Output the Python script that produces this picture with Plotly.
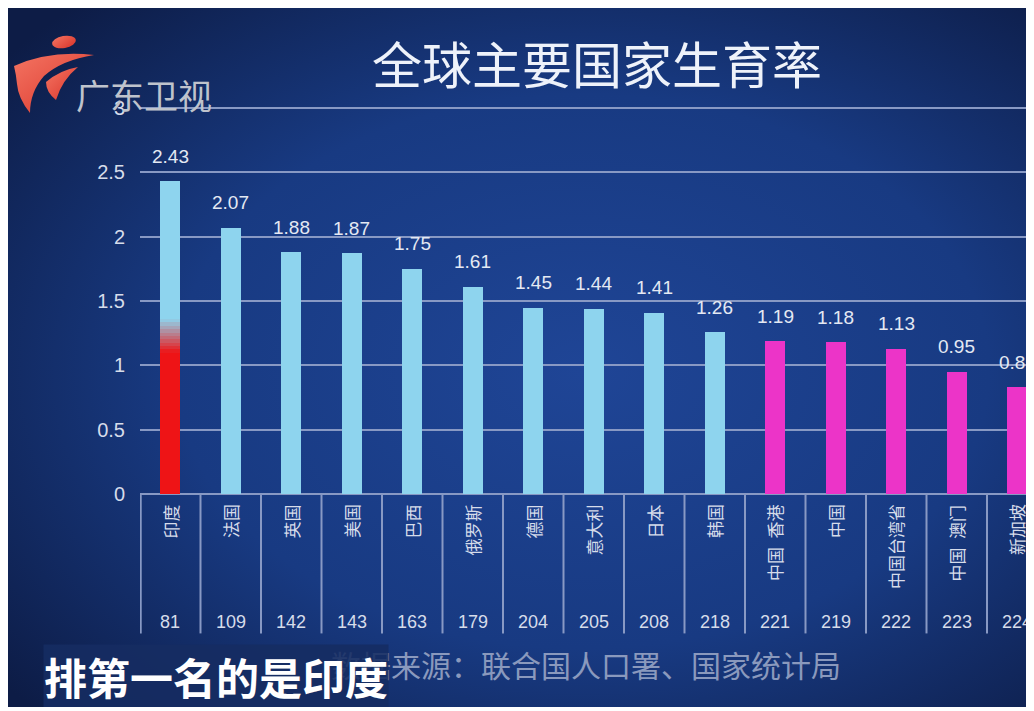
import base64
import plotly.graph_objects as go

# ---------------- data ----------------
categories = ["印度", "法国", "英国", "美国", "巴西", "俄罗斯", "德国", "意大利",
              "日本", "韩国", "中国 香港", "中国", "中国台湾省", "中国 澳门", "新加坡"]
fertility = [2.43, 2.07, 1.88, 1.87, 1.75, 1.61, 1.45, 1.44, 1.41, 1.26,
             1.19, 1.18, 1.13, 0.95, 0.83]
world_rank = [81, 109, 142, 143, 163, 179, 204, 205, 208, 218, 221, 219, 222, 223, 224]
groups = ["highlight"] + ["other"] * 9 + ["china"] * 5
y_tick_vals = [0, 0.5, 1, 1.5, 2, 2.5, 3]
y_tick_text = ["0", "0.5", "1", "1.5", "2", "2.5", "3"]

title_text = "全球主要国家生育率"
subtitle_text = "排第一名的是印度"
source_text = "数据来源：联合国人口署、国家统计局"
logo_text = "广东卫视"

# ---------------- style ----------------
OFF = 8                      # page body margin of the html page
W, H = 1026, 699
M_L, M_R, M_T, M_B = 132, 0, 96, 71
PLOT_W = W - M_L - M_R
PLOT_H = H - M_T - M_B
COLOR_MAP = {"highlight": "#8ed4ee", "other": "#8ed4ee", "china": "#ec34c8"}
RED = (238, 20, 22)
BLUE = (142, 212, 238)
LINE = "#8899c4"
TXT = "#d6dcea"
CJK = "Noto Sans CJK SC"
NUM = "Liberation Sans, Arial, sans-serif"


def px_x(sx):
    """screen pixel x -> paper x"""
    return (sx - OFF - M_L) / PLOT_W


def px_y(sy):
    """screen pixel y -> paper y"""
    return (H - M_B - (sy - OFF)) / PLOT_H


bar_colors = [COLOR_MAP[g] for g in groups]

fig = go.Figure()
fig.add_trace(go.Bar(x=categories, y=fertility, marker=dict(color=bar_colors, line=dict(width=0)),
                     width=0.33, hoverinfo="skip", showlegend=False))

# red lower part of the highlighted (first) bar, fading into blue
red_top = 1.1
fig.add_trace(go.Bar(x=[categories[0]], y=[red_top], marker=dict(color="rgb(%d,%d,%d)" % RED, line=dict(width=0)),
                     width=0.33, hoverinfo="skip", showlegend=False))
steps = 10
step_h = 0.026
for i in range(steps):
    t = (i + 0.5) / steps
    c = tuple(int(RED[k] + (BLUE[k] - RED[k]) * t) for k in range(3))
    fig.add_trace(go.Bar(x=[categories[0]], y=[step_h], base=[red_top + i * step_h],
                         marker=dict(color="rgb(%d,%d,%d)" % c, line=dict(width=0)),
                         width=0.33, hoverinfo="skip", showlegend=False))

annotations = []
# value labels
for c, v in zip(categories, fertility):
    annotations.append(dict(x=c, y=v, xref="x", yref="y", text=f"{v:.2f}", showarrow=False,
                            yanchor="middle", yshift=25, font=dict(family=NUM, size=19, color="#e4e9f3")))
# category labels (rotated) and ranks
for c, r in zip(categories, world_rank):
    annotations.append(dict(x=c, y=0, xref="x", yref="y", text=c.replace(" ", "\u2002"), showarrow=False,
                            textangle=-90, yanchor="top", xanchor="center", yshift=-8,
                            font=dict(family=CJK, size=17, color=TXT)))
    annotations.append(dict(x=c, y=0, xref="x", yref="y", text=str(r), showarrow=False,
                            yanchor="middle", yshift=-128, font=dict(family=NUM, size=18, color=TXT)))

# title, source, subtitle, logo text
annotations.append(dict(x=px_x(597), y=px_y(62), xref="paper", yref="paper", text=title_text,
                        showarrow=False, xanchor="center", yanchor="middle",
                        font=dict(family=CJK, size=50, color="#eef2fa")))
annotations.append(dict(x=px_x(144), y=px_y(95), xref="paper", yref="paper", text=logo_text,
                        showarrow=False, xanchor="center", yanchor="middle",
                        font=dict(family=CJK, size=34, color="#bfc3cc")))
annotations.append(dict(x=px_x(586), y=px_y(664), xref="paper", yref="paper", text=source_text,
                        showarrow=False, xanchor="center", yanchor="middle",
                        font=dict(family=CJK, size=30, color="#8a99bd")))
annotations.append(dict(x=px_x(216), y=px_y(676), xref="paper", yref="paper", text=subtitle_text,
                        showarrow=False, xanchor="center", yanchor="middle",
                        bgcolor="rgba(22,44,98,0.88)", borderpad=0,
                        font=dict(family=CJK, size=43, color="#ffffff", weight="bold")))

# table separators
shapes = []
for i in range(len(categories) + 1):
    xs = i - 0.5 + (0.012 if i == 0 else 0)
    shapes.append(dict(type="line", xref="x", yref="y", x0=xs, x1=xs, y0=0, y1=-1.08,
                       line=dict(color=LINE, width=2), layer="above"))

# background with gradient + logo swoosh (figure pixel space)
svg = f'''<svg xmlns="http://www.w3.org/2000/svg" width="{W}" height="{H}" viewBox="0 0 {W} {H}" preserveAspectRatio="none">
<defs>
<radialGradient id="g" cx="0.56" cy="0.52" r="0.72">
<stop offset="0" stop-color="#1f4596"/>
<stop offset="0.55" stop-color="#183a82"/>
<stop offset="1" stop-color="#0d1c46"/>
</radialGradient>
<linearGradient id="r" x1="0" y1="0" x2="1" y2="1">
<stop offset="0" stop-color="#f47462"/>
<stop offset="1" stop-color="#d9342a"/>
</linearGradient>
</defs>
<rect width="{W}" height="{H}" fill="url(#g)"/>
<g transform="translate(-8,-8)">
<ellipse cx="64" cy="42" rx="12" ry="6" fill="url(#r)" transform="rotate(-10 64 42)"/>
<path d="M14,66 Q50,50 94,55 Q62,60 44,76 Q30,92 30,113 Q18,98 17,84 Q16,74 14,66 Z" fill="url(#r)"/>
<path d="M46,82 Q60,70 78,67 Q62,80 56,100 Q46,92 46,82 Z" fill="url(#r)"/>
</g>
</svg>'''
svg_uri = "data:image/svg+xml;base64," + base64.b64encode(svg.encode("utf-8")).decode("ascii")

fig.update_layout(
    width=W, height=H,
    margin=dict(l=M_L, r=M_R, t=M_T, b=M_B, pad=0),
    paper_bgcolor="#152f6c",
    plot_bgcolor="rgba(0,0,0,0)",
    barmode="overlay",
    showlegend=False,
    bargap=0,
    xaxis=dict(range=[-0.5, -0.5 + PLOT_W / 60.5], showticklabels=False, showgrid=False,
               zeroline=False, showline=False, ticks="", fixedrange=True),
    yaxis=dict(range=[-1.1, 3.03], tickvals=y_tick_vals, ticktext=y_tick_text,
               showgrid=True, gridcolor=LINE, gridwidth=2,
               zeroline=True, zerolinecolor=LINE, zerolinewidth=2,
               showline=False, ticks="", ticklabelstandoff=14,
               tickfont=dict(family=NUM, size=20, color=TXT)),
    annotations=annotations,
    shapes=shapes,
    images=[dict(source=svg_uri, xref="paper", yref="paper", x=-M_L / PLOT_W, y=(H - M_B) / PLOT_H,
                 sizex=W / PLOT_W, sizey=H / PLOT_H, xanchor="left", yanchor="top",
                 sizing="stretch", layer="below")],
)

fig.write_html("out.html")
